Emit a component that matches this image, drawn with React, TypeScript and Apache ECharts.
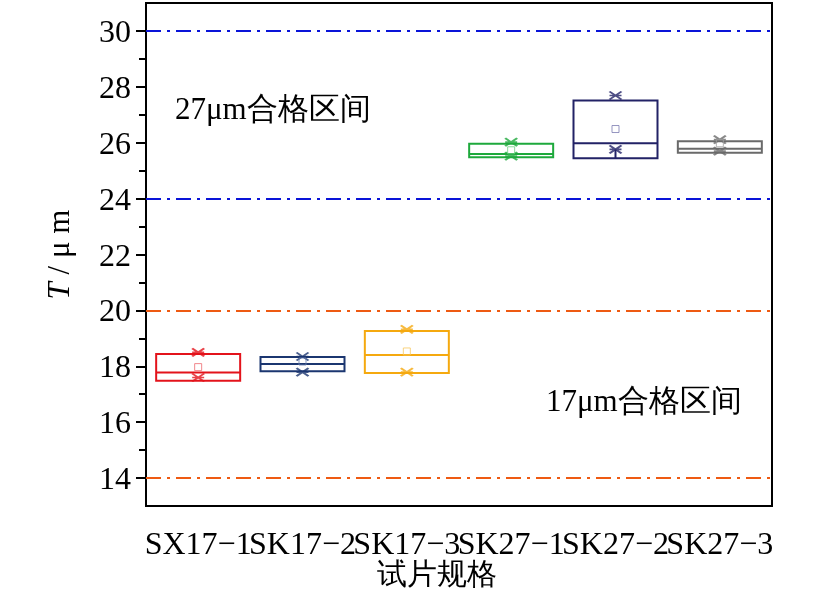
import React, { useEffect, useRef } from "react";
import * as echarts from "echarts";

const categories = ["SX17−1", "SK17−2", "SK17−3", "SK27−1", "SK27−2", "SK27−3"];
const q1Values = [17.48, 17.82, 17.76, 25.48, 25.44, 25.64];
const medianValues = [17.78, 18.08, 18.4, 25.6, 25.98, 25.78];
const q3Values = [18.44, 18.33, 19.26, 25.96, 27.51, 26.05];
const meanValues = [17.97, 18.17, 18.53, 25.73, 26.49, 25.98];
const maxMarks = [18.5, 18.35, 19.32, 26.02, 27.69, 26.11];
const minMarks = [17.6, 17.79, 17.79, 25.52, 25.76, 25.7];
const boxColors = ["#e3131b", "#1b3670", "#f5a90f", "#1ea93c", "#222266", "#6a6a6a"];
const meanColors = ["#ee6a6f", "#6a7fae", "#f8c860", "#6fcf85", "#7a7ab0", "#a0a0a0"];
const whiskerCat = "SK27−2";
const whiskerValues = [25.44, 25.76];
const yMajorTicks = [14, 16, 18, 20, 22, 24, 26, 28, 30];
const yMinorTicks = [15, 17, 19, 21, 23, 25, 27, 29];
const blueLines = [30, 24];
const orangeLines = [20, 14];
const xTitle = "试片规格";

const FONT = "Liberation Serif";

export default function App() {
  const ref = useRef<HTMLDivElement>(null);
  useEffect(() => {
    if (!ref.current) return;
    const chart = echarts.init(ref.current, null, { renderer: "svg" });
    const dash = [15, 6, 3, 6];
    chart.setOption({
      animation: false,
      textStyle: { fontFamily: FONT },
      grid: {
        left: 146,
        right: 55,
        top: 3,
        bottom: 85,
        containLabel: false,
        outerBoundsMode: "none",
        show: true,
        borderColor: "#000",
        borderWidth: 2,
        backgroundColor: "transparent",
      },
      xAxis: {
        type: "category",
        data: categories,
        axisLine: { lineStyle: { color: "#000", width: 2 } },
        axisTick: { alignWithLabel: true, length: 10, lineStyle: { color: "#000", width: 2 } },
        axisLabel: { interval: 0, margin: 21, fontFamily: FONT, fontSize: 32, color: "#000" },
        splitLine: { show: false },
      },
      yAxis: [
        {
          type: "value",
          min: 13,
          max: 31,
          name: "{i|T} / μ m",
          nameLocation: "middle",
          nameGap: 72,
          nameTextStyle: {
            fontFamily: FONT,
            fontSize: 31,
            color: "#000",
            rich: { i: { fontStyle: "italic", fontFamily: FONT, fontSize: 31, color: "#000" } },
          },
          axisLine: { show: true, lineStyle: { color: "#000", width: 2 } },
          axisTick: { show: true, length: 10, customValues: yMajorTicks, lineStyle: { color: "#000", width: 2 } },
          axisLabel: { customValues: yMajorTicks, margin: 15, fontFamily: FONT, fontSize: 32, color: "#000" },
          splitLine: { show: false },
        },
        {
          type: "value",
          min: 13,
          max: 31,
          position: "left",
          axisLine: { show: false },
          axisTick: { show: true, length: 7, customValues: yMinorTicks, lineStyle: { color: "#000", width: 2 } },
          axisLabel: { show: false },
          splitLine: { show: false },
        },
      ],
      series: [
        {
          type: "boxplot",
          boxWidth: [84, 84],
          data: categories.map((_, i) => ({
            value: [q1Values[i], q1Values[i], medianValues[i], q3Values[i], q3Values[i]],
            itemStyle: { color: "transparent", borderColor: boxColors[i], borderWidth: 2 },
          })),
          markLine: {
            silent: true,
            symbol: "none",
            label: { show: false },
            data: [
              ...blueLines.map((v) => ({ yAxis: v, lineStyle: { color: "#0a14d8", width: 2, type: dash } })),
              ...orangeLines.map((v) => ({ yAxis: v, lineStyle: { color: "#ee5a12", width: 2, type: dash } })),
            ],
          },
        },
        {
          type: "line",
          data: whiskerValues.map((v) => [whiskerCat, v]),
          symbol: "none",
          lineStyle: { color: boxColors[4], width: 2 },
        },
        {
          type: "scatter",
          symbol: "path://M0,0L12,8M12,0L0,8M0,4L12,4",
          symbolSize: [12, 8],
          data: [
            ...categories.map((c, i) => ({
              value: [c, maxMarks[i]],
              itemStyle: { color: "transparent", borderColor: boxColors[i], borderWidth: 2 },
            })),
            ...categories.map((c, i) => ({
              value: [c, minMarks[i]],
              itemStyle: { color: "transparent", borderColor: boxColors[i], borderWidth: 2 },
            })),
          ],
        },
        {
          type: "scatter",
          symbol: "rect",
          symbolSize: 7,
          data: categories.map((c, i) => ({
            value: [c, meanValues[i]],
            itemStyle: { color: "transparent", borderColor: meanColors[i], borderWidth: 1 },
          })),
        },
      ],
      graphic: [
        {
          type: "text",
          left: 175,
          top: 93,
          style: { text: "27μm合格区间", fontFamily: FONT, fontSize: 31, fill: "#000" },
        },
        {
          type: "text",
          left: 546,
          top: 385,
          style: { text: "17μm合格区间", fontFamily: FONT, fontSize: 31, fill: "#000" },
        },
        {
          type: "text",
          x: 437,
          y: 573,
          style: {
            text: xTitle,
            fontFamily: FONT,
            fontSize: 30,
            fill: "#000",
            align: "center",
            verticalAlign: "middle",
          },
        },
      ],
    });
    return () => chart.dispose();
  }, []);
  return (
    <div
      ref={ref}
      style={{ position: "fixed", left: 0, top: 0, width: 827, height: 591 }}
    />
  );
}
